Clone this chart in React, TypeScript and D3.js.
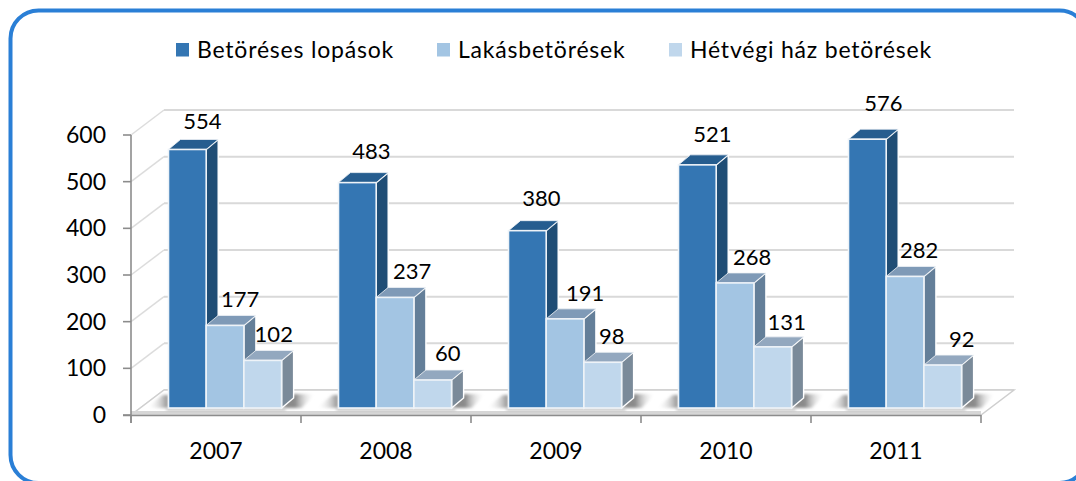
import React from "react";
import * as d3 from "d3";

const years = ["2007", "2008", "2009", "2010", "2011"];
const burglary = [554, 483, 380, 521, 576];
const homes = [177, 237, 191, 268, 282];
const weekend = [102, 60, 98, 131, 92];
const seriesNames = ["Betöréses lopások", "Lakásbetörések", "Hétvégi ház betörések"];
const yTicks = [0, 100, 200, 300, 400, 500, 600];
const front = ["#3476b3", "#a3c5e3", "#c0d7ec"];
const side = ["#1f4d75", "#647f99", "#7a8a99"];
const topc = ["#265d8f", "#7f9ab7", "#93a8bf"];
const legendX = [176, 437, 669];
// label nudges, per series, per year
const labelLift = [[20, 24, 25, 23, 28], [18, 18, 18, 18, 18], [18, 19, 18, 17, 18]];
const labelShift = [[15, 14, 14, 15, 16], [15, 17, 20, 17, 14], [11, 15, 9, 14, 19]];

const FONT = "Lato, sans-serif";
const DX = 33, DY = 25;
const BD = 12, BH = 10;

export default function App() {
  const y = d3.scaleLinear().domain([0, 600]).range([415, 135]);
  const x = d3.scaleBand().domain(years).range([131, 981]);
  const hBar = (v: number) => y(v) - 7;
  const series = [burglary, homes, weekend];
  const bw = 37.7;
  const inner = d3.scaleBand().domain(["0", "1", "2"]).range([0, bw * 3]);
  const x0 = (yr: string) => x(yr)! + 37.5;
  const base = hBar(0);
  return (
    <svg width={1076} height={481} style={{ position: "absolute", left: 0, top: 0, fontFamily: FONT }}>
      <defs>
        <linearGradient id="shL" x1="0" x2="1" y1="0" y2="0">
          <stop offset="0" stopColor="#ffffff" stopOpacity={0} />
          <stop offset="1" stopColor="#8a8a8a" />
        </linearGradient>
        <linearGradient id="shR" x1="0" x2="1" y1="0" y2="0">
          <stop offset="0" stopColor="#888888" />
          <stop offset="0.4" stopColor="#8a8a8a" />
          <stop offset="1" stopColor="#ffffff" stopOpacity={0} />
        </linearGradient>
        <filter id="blur" x="-30%" y="-50%" width="160%" height="200%">
          <feGaussianBlur stdDeviation="1.6" />
        </filter>
      </defs>
      <rect x={10.5} y={10.5} width={1077} height={472.5} rx={28} fill="#fff" stroke="#2a7fd6" strokeWidth={4} />
      {/* back wall and side wall gridlines */}
      {yTicks.map((t) => (
        <g key={t} fill="none">
          <path d={`M${x.range()[0]},${y(t)}L${x.range()[0] + DX},${y(t) - DY}`} stroke="#dcdcdc" strokeWidth={1.5} />
          <line x1={x.range()[0] + DX} x2={x.range()[1] + DX} y1={y(t) - DY} y2={y(t) - DY} stroke="#d9d9d9" strokeWidth={2} />
        </g>
      ))}
      {/* floor */}
      <path d={`M131,415L${131 + DX},${415 - DY}L${981 + DX},${415 - DY}L981,415Z`} fill="#ffffff" stroke="#cfcfcf" strokeWidth={1.5} />
      <rect x={131} y={411} width={850} height={4} fill="#d6d6d6" />
      {/* axes */}
      <g stroke="#8c8c8c" strokeWidth={1.6} fill="none">
        <line x1={131} x2={131} y1={y(600)} y2={423} />
        <line x1={123} x2={981} y1={415.5} y2={415.5} />
        {yTicks.map((t) => (
          <line key={t} x1={123} x2={131} y1={y(t)} y2={y(t)} />
        ))}
        {d3.range(0, 6).map((i) => {
          const px = 131 + (i * 850) / 5;
          return <line key={i} x1={px} x2={px} y1={415} y2={423} />;
        })}
      </g>
      {yTicks.map((t) => (
        <text key={t} x={106} y={y(t) + 8} textAnchor="end" fontSize={23} fill="#000">{t}</text>
      ))}
      {years.map((yr) => (
        <text key={yr} x={x(yr)! + x.bandwidth() / 2} y={459} textAnchor="middle" fontSize={23} fill="#000">{yr}</text>
      ))}
      {/* bars */}
      {years.map((yr, i) => {
        const left = x0(yr);
        const right = left + 3 * bw;
        return (
          <g key={yr}>
            <path d={`M${left - 22},${base}L${left - 6},${base - 13}H${left}V${base}Z`} fill="url(#shL)" filter="url(#blur)" />
            <path d={`M${right},${base}L${right + BD},${base - 14}H${right + 34}L${right + 20},${base}Z`} fill="url(#shR)" filter="url(#blur)" />
            <rect x={left - 2} y={base} width={3 * bw + 6} height={3} fill="#c4c4c4" filter="url(#blur)" />
            {series.map((s, j) => {
              const bx = left + inner(String(j))!;
              const tp = hBar(s[i]);
              return (
                <g key={j}>
                  <path d={`M${bx + bw},${tp}L${bx + bw + BD},${tp - BH}V${base - BH}L${bx + bw},${base}Z`} fill={side[j]} stroke="#ffffff" strokeWidth={1.4} />
                  <path d={`M${bx},${tp}L${bx + BD},${tp - BH}H${bx + bw + BD}L${bx + bw},${tp}Z`} fill={topc[j]} stroke="#f2f5f8" strokeWidth={0.8} />
                  <rect x={bx} y={tp} width={bw} height={base - tp} fill={front[j]} stroke="#eef3f8" strokeWidth={1.6} />
                </g>
              );
            })}
            {series.map((s, j) => {
              const bx = left + inner(String(j))!;
              return (
                <text key={j} x={bx + bw / 2 + labelShift[j][i]} y={hBar(s[i]) - labelLift[j][i]} textAnchor="middle" fontSize={22} fill="#000">{s[i]}</text>
              );
            })}
          </g>
        );
      })}
      {/* legend */}
      {seriesNames.map((n, j) => (
        <g key={n}>
          <rect x={legendX[j]} y={43} width={13} height={13.5} fill={front[j]} />
          <text x={legendX[j] + 21} y={58} fontSize={23} letterSpacing={0.8} fill="#000">{n}</text>
        </g>
      ))}
    </svg>
  );
}
